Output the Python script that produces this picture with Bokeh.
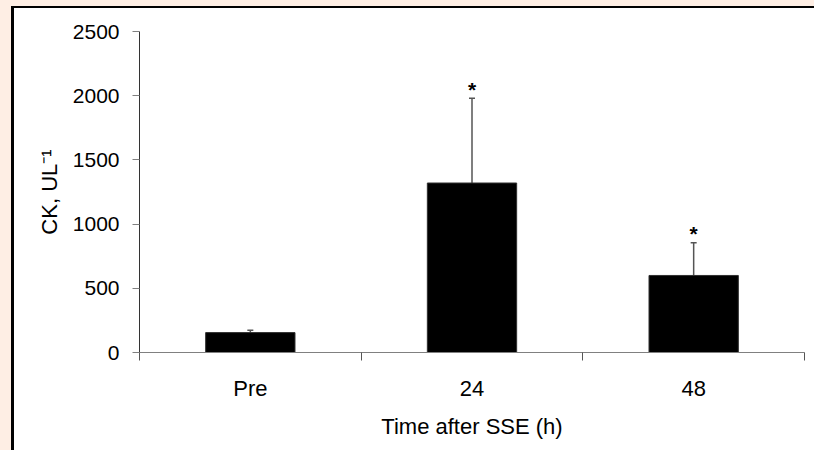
from bokeh.plotting import figure
from bokeh.models import (Range1d, FixedTicker, CustomJSTickFormatter, ColumnDataSource,
                          Whisker, TeeHead)
from bokeh.core.properties import value
from bokeh.embed import file_html
from bokeh.resources import INLINE

# ---- data ----
categories = ["Pre", "24", "48"]
ck_mean = [155, 1320, 600]
ck_sd = [18, 660, 255]
significance = ["", "*", "*"]
y_ticks = [0, 500, 1000, 1500, 2000, 2500]

FONT = "Liberation Sans"
BEIGE = "#FEEEE4"

n = len(categories)
xc = [i + 0.5 for i in range(n)]
upper = [m + s for m, s in zip(ck_mean, ck_sd)]

src = ColumnDataSource(dict(x=xc, top=ck_mean, upper=upper, sig=significance))

p = figure(width=800, height=442, output_backend="svg", toolbar_location=None,
           x_range=Range1d(0, n), y_range=Range1d(y_ticks[0], y_ticks[-1]),
           min_border_left=125, min_border_right=10, min_border_top=23, min_border_bottom=98)
p.styles = {"margin-left": "14px", "margin-top": "8px",
            "box-shadow": (f"-3px 0 0 0 black, 0 -2px 0 0 black, -3px -2px 0 0 black, "
                           f"-14px 0 0 0 {BEIGE}, 0 -8px 0 0 {BEIGE}, -14px -8px 0 0 {BEIGE}")}
p.background_fill_color = "white"
p.border_fill_color = "white"
p.outline_line_color = None
p.xgrid.visible = False
p.ygrid.visible = False

p.vbar(x="x", top="top", width=0.403, bottom=0, source=src,
       fill_color="black", line_color="#303030", line_width=1)

w = Whisker(base="x", lower="top", upper="upper", source=src,
            line_color="#555555", line_width=1.5,
            upper_head=TeeHead(size=6, line_color="#555555", line_width=1.5),
            lower_head=None)
p.add_layout(w)

p.text(x="x", y="upper", text="sig", source=src, text_align="center",
       text_baseline="alphabetic", y_offset=-9, text_font=value(FONT),
       text_font_size="21px", text_font_style="bold", text_color="black")

# x axis
xa = p.xaxis[0]
xa.ticker = FixedTicker(ticks=xc, minor_ticks=list(range(n + 1)))
xa.formatter = CustomJSTickFormatter(args=dict(labels=categories),
                                     code="return labels[Math.floor(tick)];")
xa.axis_line_color = "#808080"
xa.major_tick_out = 0
xa.major_tick_in = 0
xa.minor_tick_out = 8
xa.minor_tick_in = 0
xa.minor_tick_line_color = "#555555"
xa.major_label_standoff = 15
xa.major_label_text_font = FONT
xa.major_label_text_font_size = "22px"
xa.major_label_text_color = "black"
xa.axis_label = "Time after SSE (h)"
xa.axis_label_text_font = FONT
xa.axis_label_text_font_size = "22px"
xa.axis_label_text_font_style = "normal"
xa.axis_label_text_color = "black"
xa.axis_label_standoff = 10

# y axis
ya = p.yaxis[0]
ya.ticker = FixedTicker(ticks=y_ticks, minor_ticks=[])
ya.axis_line_color = "#333333"
ya.major_tick_out = 7
ya.major_tick_in = 0
ya.major_tick_line_color = "#808080"
ya.minor_tick_out = 0
ya.minor_tick_in = 0
ya.major_label_standoff = 13
ya.major_label_text_font = FONT
ya.major_label_text_font_size = "21px"
ya.major_label_text_color = "black"
ya.axis_label = "CK, UL\u207b\u00b9"
ya.axis_label_text_font = FONT
ya.axis_label_text_font_size = "22px"
ya.axis_label_text_font_style = "normal"
ya.axis_label_text_color = "black"
ya.axis_label_standoff = 8

open("out.html", "w").write(file_html(p, INLINE))
